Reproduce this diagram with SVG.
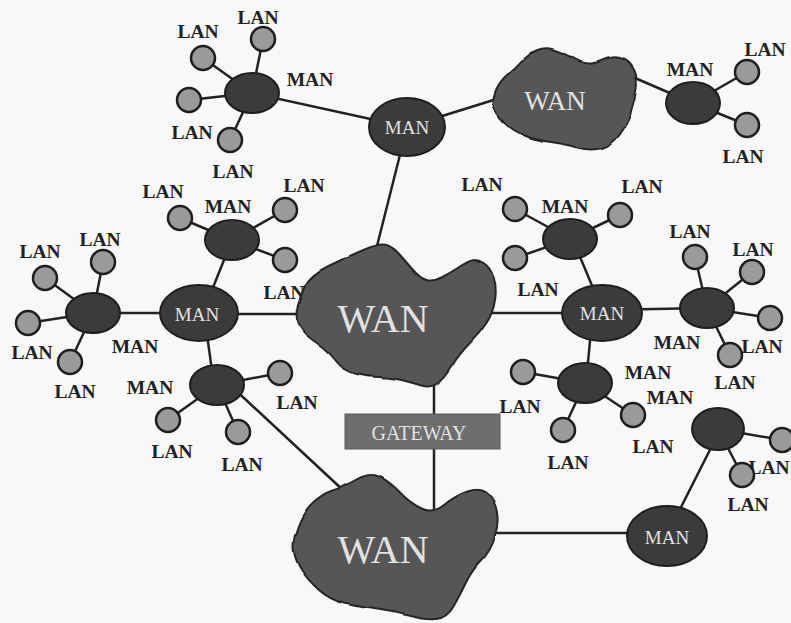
<svg xmlns="http://www.w3.org/2000/svg" width="791" height="623" viewBox="0 0 791 623">
<style>
.bg{fill:#f8f8f8}
.ln{stroke:#222;stroke-width:2.5;fill:none;stroke-linecap:round}
.man{fill:#3b3b3b;stroke:#1e1e1e;stroke-width:2}
.lan{fill:#9a9a9a;stroke:#1e1e1e;stroke-width:2.5}
.wan{fill:#575757;stroke:#262626;stroke-width:2}
.gw{fill:#6e6e6e;stroke:#5a5a5a;stroke-width:1}
.lbl{font-family:"Liberation Serif","Times New Roman",serif;font-weight:bold;font-size:19.5px;fill:#222;text-anchor:middle}
.in{font-family:"Liberation Serif","Times New Roman",serif;fill:#e2e2e2;text-anchor:middle}
</style>
<defs>
<filter id="wavy" x="-5%" y="-5%" width="110%" height="110%">
<feTurbulence type="fractalNoise" baseFrequency="0.045" numOctaves="1" seed="4" result="n"/>
<feDisplacementMap in="SourceGraphic" in2="n" scale="4" xChannelSelector="R" yChannelSelector="G"/>
</filter>
</defs>
<rect class="bg" x="0" y="0" width="791" height="623"/>

<g id="connectors">
<line class="ln" x1="252" y1="93" x2="263" y2="39"/>
<line class="ln" x1="252" y1="93" x2="203" y2="58"/>
<line class="ln" x1="252" y1="93" x2="189" y2="100"/>
<line class="ln" x1="252" y1="93" x2="230" y2="140"/>
<line class="ln" x1="252" y1="93" x2="407" y2="127"/>
<line class="ln" x1="407" y1="127" x2="500" y2="98"/>
<line class="ln" x1="407" y1="127" x2="376" y2="250"/>
<line class="ln" x1="628" y1="75" x2="693" y2="103"/>
<line class="ln" x1="693" y1="103" x2="747" y2="72"/>
<line class="ln" x1="693" y1="103" x2="747" y2="125"/>
<line class="ln" x1="93" y1="313" x2="45" y2="278"/>
<line class="ln" x1="93" y1="313" x2="103" y2="262"/>
<line class="ln" x1="93" y1="313" x2="28" y2="323"/>
<line class="ln" x1="93" y1="313" x2="70" y2="362"/>
<line class="ln" x1="93" y1="313" x2="199" y2="313"/>
<line class="ln" x1="232" y1="240" x2="180" y2="218"/>
<line class="ln" x1="232" y1="240" x2="285" y2="210"/>
<line class="ln" x1="232" y1="240" x2="285" y2="260"/>
<line class="ln" x1="230" y1="245" x2="210" y2="295"/>
<line class="ln" x1="199" y1="314" x2="310" y2="314"/>
<line class="ln" x1="204" y1="313" x2="214" y2="385"/>
<line class="ln" x1="217" y1="385" x2="280" y2="373"/>
<line class="ln" x1="217" y1="385" x2="168" y2="420"/>
<line class="ln" x1="217" y1="385" x2="238" y2="432"/>
<line class="ln" x1="230" y1="385" x2="345" y2="492"/>
<line class="ln" x1="485" y1="313" x2="602" y2="313"/>
<line class="ln" x1="570" y1="239" x2="515" y2="209"/>
<line class="ln" x1="570" y1="239" x2="620" y2="215"/>
<line class="ln" x1="570" y1="239" x2="515" y2="258"/>
<line class="ln" x1="573" y1="240" x2="598" y2="300"/>
<line class="ln" x1="602" y1="310" x2="707" y2="308"/>
<line class="ln" x1="707" y1="308" x2="695" y2="257"/>
<line class="ln" x1="707" y1="308" x2="752" y2="272"/>
<line class="ln" x1="707" y1="308" x2="770" y2="318"/>
<line class="ln" x1="707" y1="308" x2="730" y2="355"/>
<line class="ln" x1="592" y1="320" x2="586" y2="383"/>
<line class="ln" x1="585" y1="383" x2="523" y2="372"/>
<line class="ln" x1="585" y1="383" x2="563" y2="430"/>
<line class="ln" x1="585" y1="383" x2="633" y2="415"/>
<line class="ln" x1="718" y1="429" x2="782" y2="440"/>
<line class="ln" x1="718" y1="429" x2="742" y2="475"/>
<line class="ln" x1="720" y1="430" x2="672" y2="525"/>
<line class="ln" x1="480" y1="533" x2="667" y2="533"/>
<line class="ln" x1="434" y1="375" x2="434" y2="520"/>
</g>

<g id="labels">
<text class="lbl" x="258" y="24">LAN</text>
<text class="lbl" x="198" y="38">LAN</text>
<text class="lbl" x="310" y="86">MAN</text>
<text class="lbl" x="192" y="139">LAN</text>
<text class="lbl" x="233" y="178">LAN</text>
<text class="lbl" x="690" y="76">MAN</text>
<text class="lbl" x="765" y="56">LAN</text>
<text class="lbl" x="743" y="163">LAN</text>
<text class="lbl" x="100" y="246">LAN</text>
<text class="lbl" x="40" y="258">LAN</text>
<text class="lbl" x="32" y="359">LAN</text>
<text class="lbl" x="75" y="398">LAN</text>
<text class="lbl" x="135" y="353">MAN</text>
<text class="lbl" x="150" y="394">MAN</text>
<text class="lbl" x="163" y="198">LAN</text>
<text class="lbl" x="228" y="213">MAN</text>
<text class="lbl" x="304" y="192">LAN</text>
<text class="lbl" x="284" y="299">LAN</text>
<text class="lbl" x="297" y="409">LAN</text>
<text class="lbl" x="172" y="458">LAN</text>
<text class="lbl" x="242" y="471">LAN</text>
<text class="lbl" x="482" y="191">LAN</text>
<text class="lbl" x="565" y="213">MAN</text>
<text class="lbl" x="642" y="193">LAN</text>
<text class="lbl" x="538" y="296">LAN</text>
<text class="lbl" x="690" y="238">LAN</text>
<text class="lbl" x="753" y="256">LAN</text>
<text class="lbl" x="762" y="353">LAN</text>
<text class="lbl" x="735" y="389">LAN</text>
<text class="lbl" x="677" y="349">MAN</text>
<text class="lbl" x="648" y="379">MAN</text>
<text class="lbl" x="670" y="404">MAN</text>
<text class="lbl" x="520" y="413">LAN</text>
<text class="lbl" x="568" y="469">LAN</text>
<text class="lbl" x="653" y="453">LAN</text>
<text class="lbl" x="769" y="474">LAN</text>
<text class="lbl" x="748" y="511">LAN</text>
</g>

<g id="wan-top">
<path class="wan" filter="url(#wavy)" d="M494,107.5 Q492,100 496,91 Q500,82 508,75 Q516,68 523,60.5 Q530,53 537.5,50 Q545,47 553.5,49.5 Q562,52 571,57.5 Q580,63 587.5,63.5 Q595,64 603.5,60 Q612,56 620,58 Q628,60 633,68 Q638,76 636.5,88 Q635,100 631,112.5 Q627,125 619.5,135 Q612,145 602,148 Q592,151 578.5,147.5 Q565,144 550,142 Q535,140 523.5,135 Q512,130 504,122.5 Q496,115 494,107.5 Z"/>
<text class="in" x="555" y="110" font-size="27">WAN</text>
</g>
<g id="wan-center">
<path class="wan" filter="url(#wavy)" d="M305,286 Q310,275 328.5,266 Q347,257 363.5,250 Q380,243 386.5,245 Q393,247 400,255 Q407,263 413.5,270.5 Q420,278 426.5,280 Q433,282 441.5,277.5 Q450,273 458.5,267.5 Q467,262 472,260.5 Q477,259 483.5,263 Q490,267 493.5,277 Q497,287 495,300 Q493,313 486.5,323 Q480,333 470,343 Q460,353 451.5,366.5 Q443,380 436.5,384 Q430,388 421.5,385.5 Q413,383 401.5,380 Q390,377 378.5,377 Q367,377 355,373.5 Q343,370 336.5,361.5 Q330,353 323.5,348 Q317,343 310,338 Q303,333 299,325 Q295,317 297.5,307 Q300,297 305,286 Z"/>
<text class="in" x="383" y="332" font-size="40">WAN</text>
</g>
<g id="wan-bottom">
<path class="wan" filter="url(#wavy)" d="M294,552 Q292,542 297.5,527 Q303,512 312.5,503 Q322,494 332.5,490.5 Q343,487 356.5,479.5 Q370,472 380,477 Q390,482 400,492.5 Q410,503 421.5,508.5 Q433,514 444,505 Q455,496 467.5,491.5 Q480,487 487.5,493.5 Q495,500 497,512.5 Q499,525 494.5,538.5 Q490,552 481,561 Q472,570 466,582.5 Q460,595 453.5,606.5 Q447,618 436,619 Q425,620 410,616 Q395,612 377.5,609.5 Q360,607 345,603.5 Q330,600 319,590 Q308,580 302,571 Q296,562 294,552 Z"/>
<text class="in" x="383" y="563" font-size="40">WAN</text>
</g>
<g id="gateway">
<rect class="gw" x="345" y="414" width="155" height="35"/>
<text class="in" x="419" y="440" font-size="20">GATEWAY</text>
</g>

<g id="man-top"><ellipse class="man" cx="407" cy="127" rx="38" ry="29"/><text class="in" x="407" y="134" font-size="19">MAN</text></g>
<g id="man-center-left"><ellipse class="man" cx="199" cy="313" rx="39" ry="28"/><text class="in" x="197" y="321" font-size="19">MAN</text></g>
<g id="man-center-right"><ellipse class="man" cx="602" cy="313" rx="40" ry="28"/><text class="in" x="602" y="320" font-size="19">MAN</text></g>
<g id="man-bottom"><ellipse class="man" cx="667" cy="536" rx="40" ry="30"/><text class="in" x="667" y="544" font-size="19">MAN</text></g>

<g id="man-a"><ellipse class="man" cx="252" cy="93" rx="27" ry="20"/></g>
<g id="man-tr"><ellipse class="man" cx="693" cy="103" rx="27" ry="21"/></g>
<g id="man-l"><ellipse class="man" cx="93" cy="313" rx="27" ry="20"/></g>
<g id="man-ul"><ellipse class="man" cx="232" cy="240" rx="27" ry="20"/></g>
<g id="man-ll"><ellipse class="man" cx="217" cy="385" rx="27" ry="20"/></g>
<g id="man-ur"><ellipse class="man" cx="570" cy="239" rx="27" ry="20"/></g>
<g id="man-fr"><ellipse class="man" cx="707" cy="308" rx="27" ry="20"/></g>
<g id="man-lr"><ellipse class="man" cx="585" cy="383" rx="27" ry="20"/></g>
<g id="man-br"><ellipse class="man" cx="718" cy="429" rx="26" ry="21"/></g>

<g id="lan-a1"><circle class="lan" cx="263" cy="39" r="12"/></g>
<g id="lan-a2"><circle class="lan" cx="203" cy="58" r="12"/></g>
<g id="lan-a3"><circle class="lan" cx="189" cy="100" r="12"/></g>
<g id="lan-a4"><circle class="lan" cx="230" cy="140" r="12"/></g>
<g id="lan-tr1"><circle class="lan" cx="747" cy="72" r="12"/></g>
<g id="lan-tr2"><circle class="lan" cx="747" cy="125" r="12"/></g>
<g id="lan-l1"><circle class="lan" cx="45" cy="278" r="12"/></g>
<g id="lan-l2"><circle class="lan" cx="103" cy="262" r="12"/></g>
<g id="lan-l3"><circle class="lan" cx="28" cy="323" r="12"/></g>
<g id="lan-l4"><circle class="lan" cx="70" cy="362" r="12"/></g>
<g id="lan-ul1"><circle class="lan" cx="180" cy="218" r="12"/></g>
<g id="lan-ul2"><circle class="lan" cx="285" cy="210" r="12"/></g>
<g id="lan-ul3"><circle class="lan" cx="285" cy="260" r="12"/></g>
<g id="lan-ll1"><circle class="lan" cx="280" cy="373" r="12"/></g>
<g id="lan-ll2"><circle class="lan" cx="168" cy="420" r="12"/></g>
<g id="lan-ll3"><circle class="lan" cx="238" cy="432" r="12"/></g>
<g id="lan-ur1"><circle class="lan" cx="515" cy="209" r="12"/></g>
<g id="lan-ur2"><circle class="lan" cx="620" cy="215" r="12"/></g>
<g id="lan-ur3"><circle class="lan" cx="515" cy="258" r="12"/></g>
<g id="lan-fr1"><circle class="lan" cx="695" cy="257" r="12"/></g>
<g id="lan-fr2"><circle class="lan" cx="752" cy="272" r="12"/></g>
<g id="lan-fr3"><circle class="lan" cx="770" cy="318" r="12"/></g>
<g id="lan-fr4"><circle class="lan" cx="730" cy="355" r="12"/></g>
<g id="lan-lr1"><circle class="lan" cx="523" cy="372" r="12"/></g>
<g id="lan-lr2"><circle class="lan" cx="563" cy="430" r="12"/></g>
<g id="lan-lr3"><circle class="lan" cx="633" cy="415" r="12"/></g>
<g id="lan-br1"><circle class="lan" cx="782" cy="440" r="12"/></g>
<g id="lan-br2"><circle class="lan" cx="742" cy="475" r="12"/></g>
</svg>
